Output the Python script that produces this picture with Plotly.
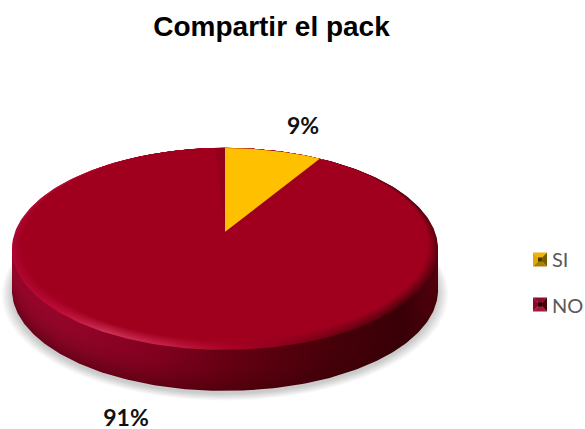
import numpy as np
import plotly.graph_objects as go

# ---- data ----
title = "Compartir el pack"
categories = ["SI", "NO"]
values = [9, 91]
slice_colors = ["#FFC000", "#A0001E"]
# legend icon facets: top, left, right, bottom, centre
icon_facets = [
    ["#F0B400", "#E0A800", "#7A5C00", "#A88000", "#4A3800"],
    ["#8E0A2A", "#8E0826", "#45000C", "#A0183A", "#2A0006"],
]

# ---- pie geometry (perspective projection of a unit circle) ----
CX, CY, A, B, K = 225.0, 232.0, 210.0, 98.1, 0.168
DEPTH = 41.0
W, H = 585, 429


def project(t, r=1.0, dy=0.0):
    u, v = r * np.sin(t), r * np.cos(t)
    d = 1 + K * v
    return CX + A * u / d, CY - B * v / d + dy


def hex2rgb(c):
    c = c.lstrip("#")
    return [int(c[i:i + 2], 16) for i in (0, 2, 4)]


def mix(c1, c2, f):
    a, b = hex2rgb(c1), hex2rgb(c2)
    return "rgb(%d,%d,%d)" % tuple(a[i] + (b[i] - a[i]) * f for i in range(3))


fig = go.Figure()
T = np.linspace(0, 2 * np.pi, 361)


def blob(x, y, **kw):
    fig.add_trace(go.Scatter(x=list(x), y=list(y), mode="lines", line=dict(width=0),
                             fill="toself", hoverinfo="skip", showlegend=False, **kw))


# soft shadow
for grow in np.linspace(10, 0, 9):
    x, y = project(T, 1 + grow / 213.0, DEPTH + 3)
    blob(x, y, fillcolor="rgba(0,0,0,0.022)")

# side wall: stacked rims, painted from the bottom edge upward
wall_stops = [
    (0.00, "#96062A"), (0.12, "#94062A"), (0.30, "#880222"), (0.50, "#680014"),
    (0.75, "#48000A"), (0.92, "#3A0008"), (1.00, "#55000F"),
]
for d in np.linspace(DEPTH, 2, 16):
    f = d / DEPTH
    scale = [[p, mix(c, "#380006", 0.45 * f ** 2.5)] for p, c in wall_stops]
    x, y = project(T, 1.0, d)
    blob(x, y, fillgradient=dict(type="horizontal", colorscale=scale))

# bevelled rim of the top face
rim_stops = [
    (0.00, "#AE0630"), (0.10, "#BE0C3A"), (0.22, "#D0345A"), (0.36, "#C8204A"),
    (0.50, "#AC0428"), (0.70, "#7C0018"), (0.92, "#4A000C"), (1.00, "#60000F"),
]
for s in np.linspace(0, 1, 12):
    scale = [[p, mix(c, slice_colors[1], s ** 0.9)] for p, c in rim_stops]
    x, y = project(T, 1.0 - 0.046 * s, -3.5 * s)
    blob(x, y, fillgradient=dict(type="horizontal", colorscale=scale))

# slices of the top face
start = 0.0
total = sum(values)
for cat, val, col in zip(categories, values, slice_colors):
    end = start + val / total * 2 * np.pi
    t = np.linspace(start, end, 181)
    r = 0.956 if cat == "NO" else 1.0
    dy = -3.5 if cat == "NO" else 0.0
    x, y = project(t, r, dy)
    blob([CX, *x, CX], [CY, *y, CY], fillcolor=col)
    start = end
    if cat == "NO":
        # slightly darker edge of this slice where it meets the next one
        te = np.linspace(end - 0.055, end, 12)
        xe, ye = project(te, 1.0, 0.0)
        blob([CX, *xe, CX], [CY, *ye, CY], fillcolor="rgba(50,0,0,0.10)")

# percent labels
label_pos = [(303, 126), (126, 418)]
for val, (lx, ly) in zip(values, label_pos):
    fig.add_trace(go.Scatter(x=[lx], y=[ly + 2], mode="text", text=[f"{val}%"], cliponaxis=False,
                             textposition="middle center", hoverinfo="skip", showlegend=False,
                             textfont=dict(family="Lato", size=23, color="#111111", weight="bold")))

# legend icons, and native legend rows (one legend per row, to hold the wide row spacing)
legend_names = ["legend", "legend2"]
icon_centres = [(540, 259.5), (540, 304.5)]
R = 7.0
for cat, facets, lg, (ix, iy) in zip(categories, icon_facets, legend_names, icon_centres):
    top, left, right, bottom, centre = facets
    blob([ix - R, ix + R, ix], [iy - R, iy - R, iy], fillcolor=top)
    blob([ix - R, ix - R, ix], [iy - R, iy + R, iy], fillcolor=left)
    blob([ix + R, ix + R, ix], [iy - R, iy + R, iy], fillcolor=right)
    blob([ix - R, ix + R, ix], [iy + R, iy + R, iy], fillcolor=bottom)
    blob([ix - 2, ix + 2, ix + 2, ix - 2], [iy - 2, iy - 2, iy + 2, iy + 2], fillcolor=centre)
    fig.add_trace(go.Scatter(x=[None], y=[None], mode="markers", name=cat, legend=lg,
                             marker=dict(symbol="square", size=14, color="rgba(0,0,0,0)")))

legend_style = dict(xanchor="left", yanchor="middle", bgcolor="rgba(0,0,0,0)",
                    font=dict(family="Lato", size=20, color="#595959"), itemsizing="constant")

fig.update_layout(
    width=W, height=H, autosize=False,
    margin=dict(l=0, r=0, t=0, b=0, autoexpand=False),
    paper_bgcolor="white", plot_bgcolor="white",
    title=dict(text=f"<b>{title}</b>", x=271.5 / W, xanchor="center", y=1 - 26 / H, yanchor="middle",
               font=dict(family="Liberation Sans", size=28, color="black")),
    xaxis=dict(range=[0, W], visible=False, fixedrange=True),
    yaxis=dict(range=[H, 0], visible=False, fixedrange=True),
    legend=dict(x=512 / W, y=1 - 259 / H, **legend_style),
    legend2=dict(x=512 / W, y=1 - 305 / H, **legend_style),
)

fig.write_html("out.html", config=dict(displayModeBar=False),
               post_script="document.body.style.margin='0';")
